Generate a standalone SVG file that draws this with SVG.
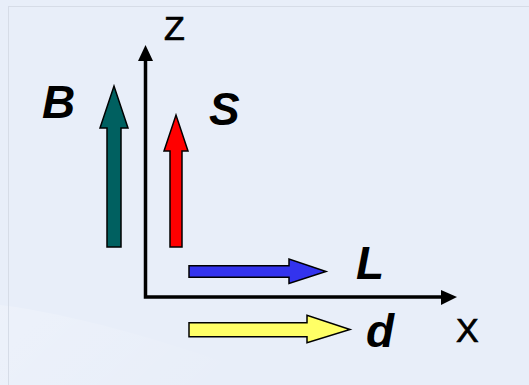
<svg xmlns="http://www.w3.org/2000/svg" width="529" height="385" viewBox="0 0 529 385">
<style>
.vec{stroke:#000;stroke-width:1.5;stroke-linejoin:miter}
.lbl{font-family:"Liberation Sans",Arial,sans-serif;font-weight:bold;font-style:italic;font-size:46px;fill:#000}
.ax{font-family:"Liberation Sans",Arial,sans-serif;font-size:34px;fill:#000;stroke:#000;stroke-width:0.7}
.axis{stroke:#000;stroke-width:3.5;fill:none}
</style>
<defs>
<linearGradient id="sw" x1="0" y1="0" x2="1" y2="0.3">
<stop offset="0" stop-color="#fff" stop-opacity="0.6"/>
<stop offset="1" stop-color="#fff" stop-opacity="0"/>
</linearGradient>
</defs>
<rect width="529" height="385" fill="#e8eef9"/>
<path d="M0 305 C80 315 180 345 290 385 L0 385 Z" fill="url(#sw)" opacity="0.35"/>
<rect x="8.5" y="6.5" width="530" height="390" fill="none" stroke="#d6dce7" stroke-width="1"/>
<g id="connectors">
<path class="axis" d="M145.5 60 V297 H442"/>
<polygon points="145.5,45 153,61 138,61" fill="#000"/>
<polygon points="457,297 441,290 441,305" fill="#000"/>
</g>
<g id="B">
<polygon class="vec" fill="#006060" points="107,247 107,128 100,128 114,86 128,128 121,128 121,247"/>
<text class="lbl" x="42" y="118">B</text>
</g>
<g id="S">
<polygon class="vec" fill="#ff0000" points="170,247 170,151 164,151 176,115 188,151 182,151 182,247"/>
<text class="lbl" x="209" y="125">S</text>
</g>
<g id="L">
<polygon class="vec" fill="#3333ee" points="189,265.7 289,265.7 289,259 326,271.5 289,283.5 289,277.3 189,277.3"/>
<text class="lbl" x="356" y="279">L</text>
</g>
<g id="d">
<polygon class="vec" fill="#ffff66" points="189,322.7 307,322.7 307,315.3 350,329.5 307,342.7 307,336.7 189,336.7"/>
<text class="lbl" x="366" y="347">d</text>
</g>
<g id="Z"><text class="ax" x="164" y="40">Z</text></g>
<g id="X"><text class="ax" x="456" y="342">X</text></g>
</svg>
